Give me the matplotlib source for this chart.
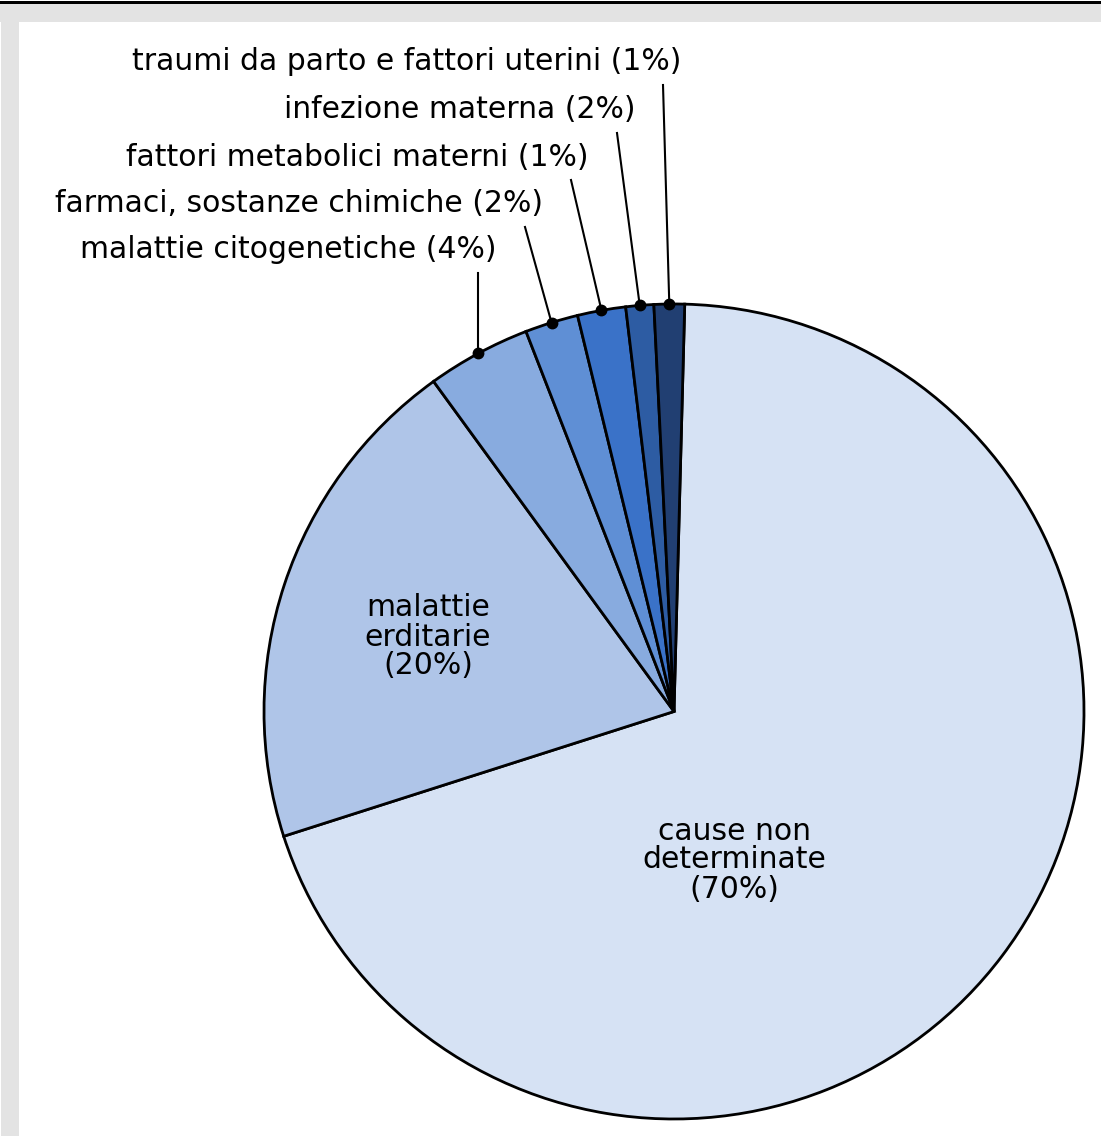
import numpy as np
import matplotlib.pyplot as plt
from matplotlib.patches import Rectangle

# slice sizes (percent of circle), clockwise from top
sizes = [69.7, 20.0, 4.1, 2.1, 1.9, 1.1, 1.2]
colors = ["#d6e2f4", "#afc5e8", "#88abdf", "#5f8fd5", "#3a72c8", "#2d5ca3", "#213f72"]

inner_labels = ["cause non\ndeterminate\n(70%)", "malattie\nerditarie\n(20%)"]
outer_labels = [
    "malattie citogenetiche (4%)",
    "farmaci, sostanze chimiche (2%)",
    "fattori metabolici materni (1%)",
    "infezione materna (2%)",
    "traumi da parto e fattori uterini (1%)",
]

W, H = 1101, 1136

fig = plt.figure(figsize=(W / 100, H / 100), dpi=100)

# pie in its own axes (bounding box of the circle in pixels)
left, top, right, bottom = 264, 304, 1084, 1119
pax = fig.add_axes([left / W, 1 - bottom / H, (right - left) / W, (bottom - top) / H])
wedges, _ = pax.pie(sizes, colors=colors, startangle=88.5, counterclock=False,
                    center=(0, 0), radius=1, frame=True,
                    wedgeprops=dict(edgecolor="black", linewidth=2.0))
pax.set_xlim(-1, 1)
pax.set_ylim(-1, 1)
pax.set_aspect("auto")
pax.axis("off")
pax.set_zorder(0)

# overlay axes in pixel coordinates for frame, labels, leaders
ax = fig.add_axes([0, 0, 1, 1])
ax.set_xlim(0, W)
ax.set_ylim(H, 0)
ax.axis("off")
ax.patch.set_alpha(0)
ax.set_zorder(1)

# frame: black line on top, grey strips top and left
ax.add_patch(Rectangle((0, 4), W, 18, color="#e3e3e3", lw=0, zorder=0))
ax.add_patch(Rectangle((1, 22), 18, H - 22, color="#e3e3e3", lw=0, zorder=0))
ax.add_patch(Rectangle((0, 1), W, 3, color="black", lw=0, zorder=0))

fs = 21.5
ax.text(734, 860, inner_labels[0], ha="center", va="center", fontsize=fs, linespacing=1.0)
ax.text(428, 637, inner_labels[1], ha="center", va="center", fontsize=fs, linespacing=1.0)

# outer labels, right aligned, stacked upward, with leader lines to the wedge middles
to_px = pax.transData + ax.transData.inverted()
text_right = [497, 543, 589, 635, 681]
text_y = [250, 204, 157, 110, 62]
for i, lab in enumerate(outer_labels):
    w = wedges[i + 2]
    mid = np.deg2rad((w.theta1 + w.theta2) / 2)
    px, py = to_px.transform((np.cos(mid), np.sin(mid)))
    tx, ty = text_right[i], text_y[i]
    ax.text(tx, ty, lab, ha="right", va="center", fontsize=fs)
    sx = tx - 18 if i > 0 else px
    ax.plot([sx, px], [ty + 23, py], color="black", lw=1.5, zorder=5)
    ax.plot(px, py, "o", color="black", ms=7.5, zorder=6)

fig.savefig("out.png", dpi=100)
